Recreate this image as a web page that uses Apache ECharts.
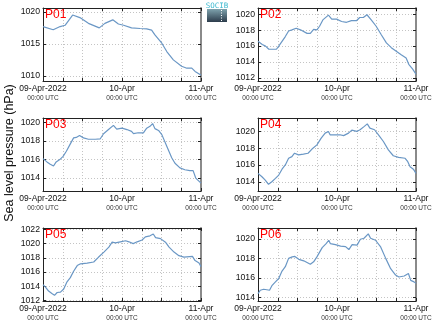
<!DOCTYPE html>
<html><head><meta charset="utf-8">
<script src="https://cdn.jsdelivr.net/npm/echarts@6/dist/echarts.min.js"></script>
<style>html,body{margin:0;padding:0;background:#fff}#c{width:435px;height:327px}</style>
</head><body><div id="c"></div><script>
// ---- data ----
const stationNames = ['P01','P02','P03','P04','P05','P06'];
const xTickLabels = ['09-Apr-2022','10-Apr','11-Apr'];
const xTickHours = [0,24,48];
const xTickSub = '00:00 UTC';
const yAxisTitle = 'Sea level pressure (hPa)';

const p01Hours = [0,3.1,5.2,6.7,9,11.2,13.8,17.1,18.8,21.2,22.9,24.5,26.9,29.5,31.5,33,34,36.1,37.6,39.6,42.1,43.7,45.2,46.2,47.7,48];
const p01Pressure = [1017.7,1017.2,1017.7,1017.9,1019.5,1019.1,1018.2,1017.5,1018.2,1018.75,1018.1,1017.9,1017.5,1017.4,1017.35,1017.15,1016.4,1015.1,1013.8,1012.5,1011.5,1011.2,1011.2,1010.7,1010.2,1010.1];

const p02Hours = [0,1.3,2.3,3.3,4.8,5.6,6.3,7.3,8.3,9.3,10.3,11.6,12.9,14.9,15.9,16.9,17.9,18.7,19.7,21.4,22.4,23.9,25.4,26.9,28.4,29.9,30.9,32,33.1,34.4,35.9,37.5,39,40.5,42,43.5,45,45.8,47,48];
const p02Pressure = [1016.6,1016.2,1016.0,1015.6,1015.6,1015.6,1016.0,1016.6,1017.2,1017.9,1018.05,1018.25,1018.05,1017.6,1017.6,1018.1,1018.05,1018.5,1019.3,1019.9,1019.4,1019.4,1019.1,1019.0,1019.2,1019.2,1019.6,1019.6,1019.95,1019.3,1018.5,1017.4,1016.4,1015.8,1015.35,1014.9,1014.5,1013.7,1013.1,1012.45];

const p03Hours = [0,1.2,2.2,3.2,4,5.1,6.1,7.1,8.3,9.3,10.1,11.1,12.3,13.8,15.9,17.4,18.4,19.9,21.4,22.4,24,25.5,26.9,27.5,28.9,30.5,31.5,32.5,33.3,34,35.1,36.1,37.6,39.1,40.1,41.6,43.1,44.6,45.6,46.4,48];
const p03Pressure = [1016.1,1015.75,1015.5,1015.3,1015.75,1016.0,1016.35,1016.9,1017.7,1018.35,1018.4,1018.6,1018.35,1018.2,1018.2,1018.25,1018.8,1019.25,1019.7,1019.3,1019.4,1019.25,1019.05,1018.8,1018.9,1018.9,1019.4,1019.6,1019.9,1019.35,1019.15,1018.7,1017.45,1016.2,1015.6,1015.1,1014.9,1014.8,1014.8,1014.0,1013.45];

const p04Hours = [0,1.2,2.2,3.2,4.2,5.3,6.3,7.3,8.3,9.3,10.3,11.1,12.3,13.8,15.2,16.4,17.9,19.2,20.4,21.4,21.9,23.4,24.9,26,27.5,28.5,30,31,32.3,33.2,34,35.4,36.6,38.1,39.6,41.1,42.7,44.7,45.5,46.2,47.2,48];
const p04Pressure = [1015.0,1014.6,1014.2,1013.7,1014.0,1014.4,1014.8,1015.5,1016.0,1016.8,1017.0,1017.4,1017.2,1017.3,1017.4,1017.9,1018.4,1019.2,1019.8,1020.0,1019.6,1019.6,1019.6,1019.5,1019.8,1020.15,1020.0,1020.2,1020.6,1020.9,1020.4,1020.2,1019.6,1018.8,1017.8,1017.1,1016.9,1016.8,1016.4,1015.8,1015.5,1015.0];

const p05Hours = [0,0.7,1.7,2.7,3.5,4.3,5.3,6.3,7.3,8.3,9.3,10.4,11.4,13.4,15.4,16.9,18.5,20,21,22,23.5,25.1,26.1,27.4,28.6,30.1,31.1,32.5,33.5,34.2,35.7,37.2,38.3,39.8,41.3,42.8,45.4,46.2,47.4,48];
const p05Pressure = [1014.2,1013.9,1013.3,1012.95,1012.7,1013.1,1013.15,1013.6,1014.6,1015.2,1016.1,1016.9,1017.15,1017.25,1017.4,1018.1,1018.8,1019.5,1020.2,1020.1,1020.25,1020.4,1020.25,1020.0,1020.25,1020.5,1020.95,1021.1,1021.35,1020.85,1020.7,1020.2,1019.5,1018.8,1018.3,1018.1,1018.2,1017.6,1017.25,1016.75];

const p06Hours = [0,0.7,1.7,2.7,3.5,4.3,5.3,6.3,7.3,8.3,9.3,10.4,11.2,12.4,13.9,15.9,16.9,17.9,19.5,20.7,21.5,22,23.5,25.1,26.6,27.6,28.6,30.1,31.1,32.2,33.5,34.2,35.7,37.2,38.8,40.3,41.8,42.8,44.4,45.7,46.4,47.4,48];
const p06Pressure = [1014.4,1014.75,1014.85,1014.8,1014.75,1015.25,1015.6,1015.95,1016.7,1017.15,1018.0,1018.15,1018.2,1017.9,1017.75,1017.4,1017.65,1018.15,1019.1,1019.5,1019.85,1019.5,1019.4,1019.25,1019.2,1018.9,1019.4,1019.35,1019.95,1020.05,1020.5,1020.05,1019.85,1019.2,1018.0,1016.95,1016.3,1016.1,1016.2,1016.45,1015.75,1015.6,1015.45];

const allHours = [p01Hours,p02Hours,p03Hours,p04Hours,p05Hours,p06Hours];
const allPressure = [p01Pressure,p02Pressure,p03Pressure,p04Pressure,p05Pressure,p06Pressure];

// ---- axis extents per panel ----
const yMin = [1009.2,1011.6,1012.6,1012.9,1011.9,1013.65];
const yMax = [1020.6,1020.8,1020.5,1021.6,1022.2,1021.1];
const yStep = [5,2,2,2,2,2];

// ---- layout ----
const pos = [[43,8],[258,8],[43,118],[258,118],[43,228],[258,228]];
const W = 158, H = 73;
const FONT = 'Liberation Sans, Arial, sans-serif';
const LINE = '#6a97c5';

const grids=[], xAxes=[], yAxes=[], series=[], titles=[];
stationNames.forEach((name,i)=>{
  grids.push({left:pos[i][0], top:pos[i][1], width:W, height:H, containLabel:false});
  const tick = {show:true, inside:true, length:3, lineStyle:{color:'#222', width:1}};
  xAxes.push({
    type:'value', gridIndex:i, min:0, max:48, interval:6, position:'bottom',
    axisLine:{show:true, onZero:false, lineStyle:{color:'#222', width:1}},
    axisTick:tick,
    splitLine:{show:true, lineStyle:{color:'#c4c4c4', type:[1,2], width:1}},
    axisLabel:{
      show:true, margin:3, hideOverlap:false, showMinLabel:true, showMaxLabel:true,
      formatter:(v)=>{
        const k = xTickHours.indexOf(Math.round(v));
        return k<0 ? '' : '{a|'+xTickLabels[k]+'}\n{b|'+xTickSub+'}';
      },
      rich:{
        a:{fontSize:8.5, fontFamily:FONT, color:'#111', lineHeight:10},
        b:{fontSize:6.5, fontFamily:FONT, color:'#333', lineHeight:9}
      }
    }
  });
  xAxes.push({
    type:'value', gridIndex:i, min:0, max:48, interval:6, position:'top',
    axisLine:{show:true, onZero:false, lineStyle:{color:'#222', width:1}},
    axisTick:tick, axisLabel:{show:false}, splitLine:{show:false}
  });
  yAxes.push({
    type:'value', gridIndex:i, min:yMin[i], max:yMax[i], minInterval:yStep[i], maxInterval:yStep[i],
    position:'left',
    axisLine:{show:true, onZero:false, lineStyle:{color:'#222', width:1}},
    axisTick:tick,
    splitLine:{show:true, lineStyle:{color:'#c4c4c4', type:[1,2], width:1}},
    axisLabel:{show:true, margin:3, showMinLabel:false, showMaxLabel:false,
      formatter:(v)=>String(Math.round(v)),
      fontSize:8.7, fontFamily:FONT, color:'#111'}
  });
  yAxes.push({
    type:'value', gridIndex:i, min:yMin[i], max:yMax[i], minInterval:yStep[i], maxInterval:yStep[i],
    position:'right',
    axisLine:{show:true, onZero:false, lineStyle:{color:'#8a8a8a', width:2}},
    axisTick:tick, axisLabel:{show:false}, splitLine:{show:false}
  });
  const hrs = allHours[i], vals = allPressure[i];
  const n = Math.min(hrs.length, vals.length);
  const data = [];
  for (let k=0;k<n;k++) data.push([hrs[k], vals[k]]);
  series.push({
    type:'line', xAxisIndex:2*i, yAxisIndex:2*i, data:data, showSymbol:false,
    lineStyle:{color:LINE, width:1.2}, silent:true, animation:false, z:3
  });
  titles.push({text:name, left:pos[i][0]+2, top:pos[i][1]+1, padding:0,
    textStyle:{color:'#ff0000', fontSize:12, fontWeight:'normal', fontFamily:FONT}});
});

const chart = echarts.init(document.getElementById('c'));
chart.setOption({
  animation:false,
  backgroundColor:'#fff',
  title:titles, grid:grids, xAxis:xAxes, yAxis:yAxes, series:series,
  graphic:[
    {type:'text', x:10, y:153, rotation:Math.PI/2,
      style:{text:yAxisTitle, fontSize:12.5, fontFamily:FONT, fill:'#111', align:'center', verticalAlign:'middle'}},
    {type:'group', x:207, y:2, children:[
      {type:'text', x:10, y:0.5, style:{text:'SOCIB', fontSize:7.5, fontFamily:'DejaVu Sans Mono, monospace', fill:'#3bb8cf', align:'center', verticalAlign:'top'}},
      {type:'rect', shape:{x:0, y:7, width:20, height:13},
        style:{fill:new echarts.graphic.LinearGradient(0,0,0,1,[{offset:0,color:'#7ea2ad'},{offset:1,color:'#2c3c4b'}])}},
      {type:'line', shape:{x1:14.5, y1:8, x2:14.5, y2:19}, style:{stroke:'#ffffff', lineWidth:1, lineDash:[1,1.5]}}
    ]}
  ]
});
</script></body></html>
